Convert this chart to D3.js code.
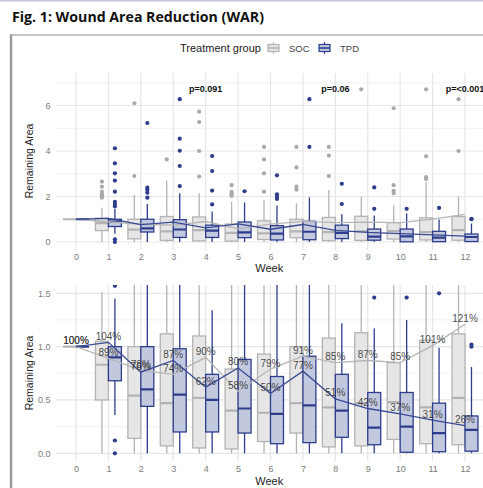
<!DOCTYPE html>
<html><head><meta charset="utf-8">
<script src="https://cdn.jsdelivr.net/npm/d3@7"></script>
<style>html,body{margin:0;padding:0;background:#fff;}svg{display:block;}</style>
</head><body>
<script>
// ---------- data ----------
const weeks = [0,1,2,3,4,5,6,7,8,9,10,11,12];
const groups = ["SOC","TPD"];
// SOC box statistics
const socLow = [1,0,0,0,0,0,0,0,0,0,0,0,0];
const socQ1  = [1,0.50,0.14,0.07,0.05,0.04,0.11,0.19,0.06,0.07,0.13,0.09,0.08];
const socMed = [1,0.83,0.54,0.47,0.52,0.40,0.38,0.47,0.43,0.47,0.48,0.43,0.52];
const socQ3  = [1,1.05,1.00,1.12,1.10,0.79,0.93,1.00,1.08,1.13,0.85,1.06,1.12];
const socHigh= [1,1.51,2.07,2.70,2.14,1.77,1.85,1.70,2.29,1.99,1.60,2.65,1.99];
const socOut = [[],[2.65,2.43,2.21,2.1,2.05,2.0,1.95],[6.1,2.9],[3.63],[5.73,5.27,4.0,2.88],[2.5,2.2,2.1,2.03],[4.18,3.63,3.02,2.21],[4.18,3.28,2.43,2.3],[4.18,3.8,2.9],[6.71],[5.88,2.5,2.25,2.14],[6.71,3.77,2.85,2.77],[6.28,4.0]];
// TPD box statistics
const tpdLow = [1,0.36,0,0,0,0,0,0,0,0,0,0,0];
const tpdQ1  = [1,0.68,0.44,0.20,0.20,0.19,0.09,0.10,0.15,0.08,0.01,0.015,0.02];
const tpdMed = [1,0.90,0.60,0.55,0.50,0.42,0.37,0.45,0.40,0.24,0.25,0.19,0.22];
const tpdQ3  = [1,1.00,1.00,0.98,0.74,0.88,0.72,0.91,0.74,0.57,0.57,0.47,0.35];
const tpdHigh= [1,1.45,1.67,2.14,1.34,1.74,1.60,1.96,1.22,1.17,1.25,0.99,0.81];
const tpdOut = [[],[4.12,3.46,3.02,2.7,2.21,1.77,1.67,1.57,0.12,0.0],[5.23,2.39,2.3,2.17,1.95],[6.28,4.54,4.01,3.34,2.46],[3.78,3.12,2.26,1.65],[2.23],[2.93,2.1,1.99,1.89],[6.28,4.18],[2.56,1.67],[2.4,1.46],[1.46],[1.5],[1.02,1.0]];
// mean remaining area per week (trend lines) and their printed labels
const socMean = [1.00,0.89,0.78,0.74,0.90,0.58,0.79,0.91,0.85,0.87,0.85,1.01,1.21];
const tpdMean = [1.00,1.04,0.76,0.87,0.62,0.80,0.56,0.77,0.51,0.42,0.37,0.31,0.26];
const socLabels = ["100%","89%","78%","74%","90%","58%","79%","91%","85%","87%","85%","101%","121%"];
const tpdLabels = ["100%","104%","76%","87%","62%","80%","50%","77%","51%","42%","37%","31%","26%"];
// p-values
const pWeeks = [4,8,12];
const pTexts = ["p=0.091","p=0.06","p=<0.001"];
const pY = 6.71;
// axis ticks
const topTicks = [0,2,4,6];
const topMinor = [1,3,5,7];
const botTicks = [0,0.5,1.0,1.5];
const botMinor = [0.25,0.75,1.25];

const title = "Fig. 1: Wound Area Reduction (WAR)";
const legendTitle = "Treatment group";

// ---------- styles ----------
const col = {
  SOC:{fill:"#e6e6e6", stroke:"#b3b3b3", pt:"#a9a9a9", line:"#b5b5b5"},
  TPD:{fill:"#c2c8de", stroke:"#2d3d8c", pt:"#2d3d8c", line:"#3a4a92"}
};
const W=483, H=488;
const svg = d3.select("body").append("svg").attr("width",W).attr("height",H)
  .style("font-family","'Liberation Sans', Arial, sans-serif");

svg.append("rect").attr("width",W).attr("height",H).attr("fill","#fff");
svg.append("line").attr("x1",0).attr("x2",W).attr("y1",0.75).attr("y2",0.75).attr("stroke","#c4c9df").attr("stroke-width",1.5);
svg.append("text").attr("x",12).attr("y",22).text(title)
  .style("font-family","'Open Sans', 'Liberation Sans', sans-serif").style("font-weight",700).style("font-size","14.5px")
  .attr("fill","#111").attr("textLength",252).attr("lengthAdjust","spacingAndGlyphs");
// frame
svg.append("line").attr("x1",10).attr("x2",W).attr("y1",35).attr("y2",35).attr("stroke","#8c8c8c").attr("stroke-width",1.2);
svg.append("line").attr("x1",11).attr("x2",11).attr("y1",34.5).attr("y2",H).attr("stroke","#9a9a9a").attr("stroke-width",2.5);

// legend
svg.append("text").attr("x",180).attr("y",52).text(legendTitle).attr("fill","#222").style("font-size","11px");
function legendKey(g, x0, y0){
  const k = svg.append("g").attr("transform",`translate(${x0},${y0})`);
  k.append("line").attr("x1",6.5).attr("x2",6.5).attr("y1",0).attr("y2",12).attr("stroke",col[g].stroke).attr("stroke-width",1.2);
  k.append("rect").attr("x",1).attr("y",2.5).attr("width",11).attr("height",7).attr("fill",col[g].fill).attr("stroke",col[g].stroke).attr("stroke-width",1.2);
  k.append("line").attr("x1",1).attr("x2",12).attr("y1",6).attr("y2",6).attr("stroke",col[g].stroke).attr("stroke-width",1.6);
}
legendKey("SOC",267,42);
svg.append("text").attr("x",289).attr("y",51.5).text("SOC").attr("fill","#444").style("font-size","9.5px");
legendKey("TPD",318,42);
svg.append("text").attr("x",340).attr("y",51.5).text("TPD").attr("fill","#444").style("font-size","9.5px");

// ---------- scales ----------
const x = d3.scaleLinear().domain([0,12]).range([76,465]);
const px0 = x(-0.63), px1 = W;
const boxW = x(0.4)-x(0);

const stats = {
  SOC: weeks.map((w,i)=>({w, lo:socLow[i], q1:socQ1[i], med:socMed[i], q3:socQ3[i], hi:socHigh[i], out:socOut[i]})),
  TPD: weeks.map((w,i)=>({w, lo:tpdLow[i], q1:tpdQ1[i], med:tpdMed[i], q3:tpdQ3[i], hi:tpdHigh[i], out:tpdOut[i]}))
};
const means = {SOC:socMean, TPD:tpdMean};
const labels = {SOC:socLabels, TPD:tpdLabels};

function panel(id, y, top, bottom, ticks, minor, fmt, withLabels, withP, yTitleY, weekY, tickY){
  const g = svg.append("g");
  const clipId = "clip"+id;
  svg.append("clipPath").attr("id",clipId).append("rect").attr("x",px0).attr("y",top).attr("width",px1-px0).attr("height",bottom-top);
  // grid
  const grid = g.append("g");
  grid.selectAll(".mn").data(minor).join("line").attr("x1",px0).attr("x2",px1).attr("y1",d=>y(d)).attr("y2",d=>y(d)).attr("stroke","#efefef").attr("stroke-width",0.8);
  grid.selectAll(".mj").data(ticks).join("line").attr("x1",px0).attr("x2",px1).attr("y1",d=>y(d)).attr("y2",d=>y(d)).attr("stroke","#e6e6e6").attr("stroke-width",1.2);
  grid.selectAll(".vx").data(weeks).join("line").attr("x1",d=>x(d)).attr("x2",d=>x(d)).attr("y1",top).attr("y2",bottom).attr("stroke","#e6e6e6").attr("stroke-width",1.2);
  // y axis
  const ya = g.append("g").attr("transform",`translate(${px0-2},0)`)
    .call(d3.axisLeft(y).tickValues(ticks).tickSize(0).tickPadding(3).tickFormat(fmt));
  ya.select(".domain").remove();
  ya.selectAll("text").attr("fill","#7b7b7b").style("font-size","9px").style("font-family","'Liberation Sans', Arial, sans-serif");
  // x axis
  const xa = g.append("g").attr("transform",`translate(0,${tickY})`)
    .call(d3.axisBottom(x).tickValues(weeks).tickSize(0).tickPadding(0).tickFormat(d3.format("d")));
  xa.select(".domain").remove();
  xa.selectAll("text").attr("fill","#7b7b7b").style("font-size","9px").attr("dy","0.35em").attr("y",0).style("font-family","'Liberation Sans', Arial, sans-serif");
  g.append("text").attr("x",(px0+px1)/2).attr("y",weekY).attr("text-anchor","middle").attr("dy","0.35em").text("Week").attr("fill","#222").style("font-size","11px");
  g.append("text").attr("transform",`translate(29,${yTitleY}) rotate(-90)`).attr("text-anchor","middle").attr("dy","0.35em").text("Remaining Area").attr("fill","#222").style("font-size","10.5px");

  const body = g.append("g").attr("clip-path",`url(#${clipId})`);
  groups.forEach(gr=>{
    const off = gr==="SOC" ? -0.4 : 0;
    const c = col[gr];
    const bg = body.append("g");
    stats[gr].forEach(s=>{
      const xl = x(s.w+off), xc = xl+boxW/2;
      bg.append("line").attr("x1",xc).attr("x2",xc).attr("y1",y(s.q3)).attr("y2",y(s.hi)).attr("stroke",c.stroke).attr("stroke-width",1.3);
      bg.append("line").attr("x1",xc).attr("x2",xc).attr("y1",y(s.q1)).attr("y2",y(s.lo)).attr("stroke",c.stroke).attr("stroke-width",1.3);
      bg.append("rect").attr("x",xl).attr("width",boxW).attr("y",y(s.q3)).attr("height",Math.max(0,y(s.q1)-y(s.q3)))
        .attr("fill",c.fill).attr("stroke",c.stroke).attr("stroke-width",1.3);
      bg.append("line").attr("x1",xl).attr("x2",xl+boxW).attr("y1",y(s.med)).attr("y2",y(s.med)).attr("stroke",c.stroke).attr("stroke-width",2.2);
      bg.selectAll(null).data(s.out).join("circle").attr("cx",xc).attr("cy",d=>y(d)).attr("r",2.1).attr("fill",c.pt);
    });
  });
  // mean trend lines
  groups.forEach(gr=>{
    body.append("path").datum(means[gr]).attr("fill","none").attr("stroke",col[gr].line).attr("stroke-width",1.3)
      .attr("d",d3.line().x((d,i)=>x(weeks[i])).y(d=>y(d)));
  });
  if(withLabels){
    groups.forEach(gr=>{
      body.selectAll(null).data(means[gr]).join("text").attr("x",(d,i)=>x(weeks[i])).attr("y",d=>y(d)-6)
        .attr("text-anchor","middle").attr("dy","0.35em").text((d,i)=>labels[gr][i]).attr("fill","#333").attr("fill-opacity",0.9).style("font-size","10px");
    });
  }
  if(withP){
    g.selectAll(null).data(pWeeks).join("text").attr("x",d=>x(d)).attr("y",y(pY)).attr("text-anchor","middle").attr("dy","0.35em")
      .text((d,i)=>pTexts[i]).attr("fill","#111").style("font-weight",700).style("font-size","9px");
  }
}

const yTop = d3.scaleLinear().domain([0,6]).range([242,105.5]);
panel("t", yTop, 73, 250, topTicks, topMinor, d3.format("d"), false, true, 161, 268, 257);
const yBot = d3.scaleLinear().domain([0,1.5]).range([453.3,293.3]);
panel("b", yBot, 285, 461, botTicks, botMinor, d3.format(".1f"), true, false, 373, 481, 469);
</script>
</body></html>
